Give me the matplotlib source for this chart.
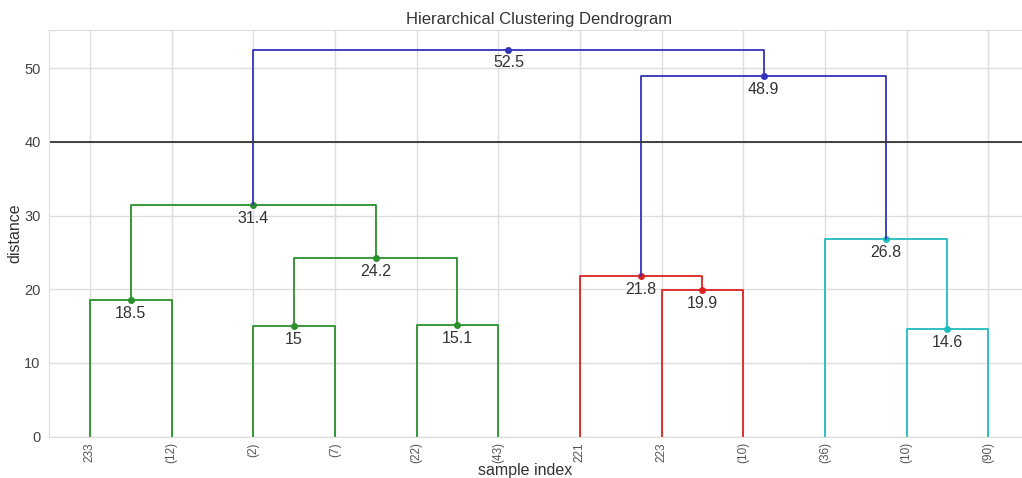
import matplotlib
matplotlib.use('Agg')
import matplotlib.pyplot as plt
import seaborn as sns

sns.set_style('whitegrid')
plt.rcParams['font.family'] = ['Liberation Sans', 'DejaVu Sans']

# truncated dendrogram: 12 leaves, merges listed scipy-style (new ids from 12)
leaf_labels = ['233', '(12)', '(2)', '(7)', '(22)', '(43)',
               '221', '223', '(10)', '(36)', '(10)', '(90)']
merge_a = [0, 2, 4, 13, 12, 7, 6, 10, 9, 18, 16]
merge_b = [1, 3, 5, 14, 15, 8, 17, 11, 19, 20, 21]
merge_dist = [18.5, 15.0, 15.1, 24.2, 31.4, 19.9, 21.8, 14.6, 26.8, 48.9, 52.5]
merge_color = ['#2a902a'] * 5 + ['#dd2222'] * 2 + ['#20bcbc'] * 2 + ['#3333bb'] * 2
max_d = 40

fig = plt.figure(figsize=(10.22, 4.78), dpi=100)
ax = fig.add_axes([49 / 1022, 1 - 436.5 / 478, 980 / 1022, 406.5 / 478])

n = len(leaf_labels)
xpos = {i: 5 + 10 * i for i in range(n)}
height = {i: 0.0 for i in range(n)}

for k, (a, b, d, c) in enumerate(zip(merge_a, merge_b, merge_dist, merge_color)):
    node = n + k
    xa, xb = xpos[a], xpos[b]
    ax.plot([xa, xa, xb, xb], [height[a], d, d, height[b]], color=c, lw=1.3)
    xm = 0.5 * (xa + xb)
    xpos[node] = xm
    height[node] = d
    ax.plot(xm, d, 'o', color=c, ms=4)
    ax.annotate('%.3g' % d, (xm, d), xytext=(0, -4),
                textcoords='offset points', va='top', ha='center',
                fontsize=11.5, color='#333333')

ax.axhline(y=max_d, color='#333333', lw=1.3)

ax.set_xlim(0, 10 * n)
ax.set_ylim(0, 55.2)
ax.set_xticks([xpos[i] for i in range(n)])
ax.set_xticklabels(leaf_labels, rotation=90, fontsize=8.5, color='#555555')
ax.set_yticks(range(0, 60, 10))
ax.tick_params(axis='y', labelsize=10.5, labelcolor='#444444', length=0, pad=6)
ax.tick_params(axis='x', length=0, pad=4)
ax.grid(True, color='#dddddd', lw=1)
for s in ax.spines.values():
    s.set_color('#dddddd')

ax.set_title('Hierarchical Clustering Dendrogram', fontsize=12, color='#333333', pad=4)
ax.set_xlabel('sample index', fontsize=11.5, color='#333333')
ax.xaxis.set_label_coords(0.486, -0.066)
ax.set_ylabel('distance', fontsize=11.5, color='#333333')
ax.yaxis.set_label_coords(-0.027, 0.5)

fig.savefig('out.png', dpi=100)
